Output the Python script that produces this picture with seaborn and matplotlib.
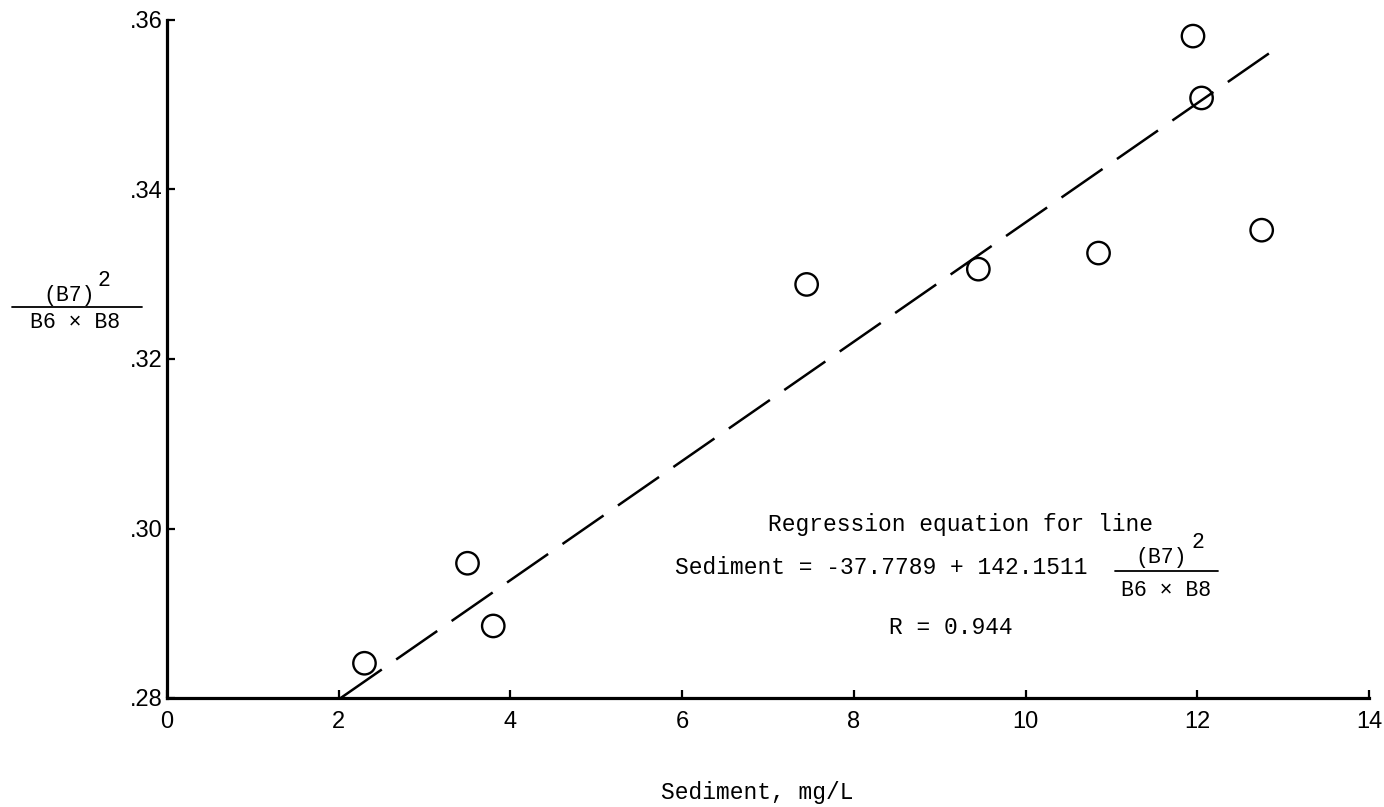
import numpy as np
import pandas as pd
import matplotlib
matplotlib.use("Agg")
import matplotlib.pyplot as plt
from matplotlib.lines import Line2D
import seaborn as sns

# Observed sediment concentration vs. band ratio (B7)^2 / (B6 x B8)
sediment = [2.3, 3.5, 3.8, 7.45, 9.45, 10.85, 11.95, 12.05, 12.75]
band_ratio = [0.2841, 0.2959, 0.2885, 0.3288, 0.3306, 0.3325, 0.3581, 0.3508, 0.3352]

# Fitted regression: Sediment = intercept + slope * ratio
intercept = -37.7789
slope = 142.1511
r_value = 0.944
line_ratio_range = [0.28, 0.3572]

x_ticks = [0, 2, 4, 6, 8, 10, 12, 14]
x_tick_labels = ["0", "2", "4", "6", "8", "10", "12", "14"]
y_ticks = [0.28, 0.30, 0.32, 0.34, 0.36]
y_tick_labels = [".28", ".30", ".32", ".34", ".36"]

sns.set_style("ticks")
plt.rcParams["font.family"] = ["Liberation Mono", "DejaVu Sans Mono"]
plt.rcParams["xtick.direction"] = "in"
plt.rcParams["ytick.direction"] = "in"
plt.rcParams["text.color"] = "black"
plt.rcParams["xtick.color"] = "black"
plt.rcParams["ytick.color"] = "black"

W, H = 1384, 807
fig = plt.figure(figsize=(W / 100, H / 100), dpi=100)
ax = fig.add_axes([167 / W, 1 - 698 / H, (1369 - 167) / W, (698 - 20) / H])

df = pd.DataFrame({"sediment": sediment, "ratio": band_ratio})
sns.scatterplot(data=df, x="sediment", y="ratio", ax=ax, marker="o", s=260,
                color="black", edgecolor="black", linewidth=1.7, zorder=3,
                clip_on=False, legend=False)
ax.collections[0].set_facecolor("none")

ratio_line = np.array(line_ratio_range)
sed_line = intercept + slope * ratio_line
ax.plot(sed_line, ratio_line, color="black", lw=1.8,
        linestyle=(0, (20, 7)), zorder=2)

ax.set_xlim(0, 14)
ax.set_ylim(0.28, 0.36)
ax.set_xticks(x_ticks)
ax.set_xticklabels(x_tick_labels)
ax.set_yticks(y_ticks)
ax.set_yticklabels(y_tick_labels)
ax.tick_params(axis="both", direction="in", length=6, width=1.6,
               color="black", labelcolor="black", labelsize=17)
ax.tick_params(axis="x", pad=9)
ax.tick_params(axis="y", pad=3)
for lab in ax.get_xticklabels() + ax.get_yticklabels():
    lab.set_fontfamily("Liberation Sans")
ax.set_xlabel("")
ax.set_ylabel("")
sns.despine(ax=ax)
for side in ("left", "bottom"):
    ax.spines[side].set_linewidth(2.3)
    ax.spines[side].set_color("black")


def fx(px):
    return px / W


def fy(py):
    return 1 - py / H


txt = dict(color="black", fontsize=16.5)
frac = dict(color="black", fontsize=15.5)

# x-axis title
fig.text(fx(757), fy(792), "Sediment, mg/L", ha="center", va="center", **txt)

# y-axis title drawn as a fraction
fig.text(fx(69), fy(295), "(B7)", ha="center", va="center", **frac)
fig.text(fx(104), fy(281), "2", ha="center", va="center", **frac)
fig.add_artist(Line2D([fx(12), fx(142)], [fy(307), fy(307)], color="black", lw=1.3))
fig.text(fx(75), fy(323), "B6 \u00d7 B8", ha="center", va="center", **frac)

# regression equation block
fig.text(fx(960), fy(525), "Regression equation for line", ha="center", va="center", **txt)
fig.text(fx(675), fy(567), f"Sediment = {intercept:.4f} + {slope:.4f}",
         ha="left", va="center", **txt)
fig.text(fx(1161), fy(558), "(B7)", ha="center", va="center", **frac)
fig.text(fx(1198), fy(543), "2", ha="center", va="center", **frac)
fig.add_artist(Line2D([fx(1115), fx(1218)], [fy(571), fy(571)], color="black", lw=1.3))
fig.text(fx(1166), fy(590), "B6 \u00d7 B8", ha="center", va="center", **frac)
fig.text(fx(951), fy(627), f"R = {r_value:.3f}", ha="center", va="center", **txt)

fig.savefig("out.png", dpi=100, facecolor="white")
